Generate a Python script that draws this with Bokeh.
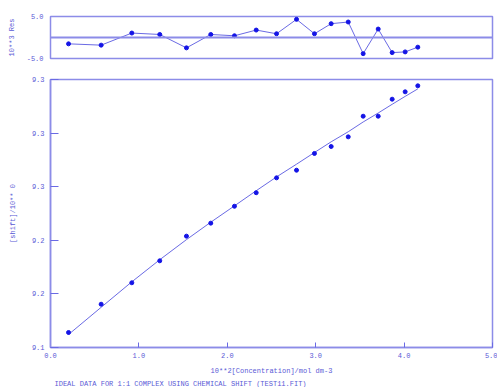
from bokeh.plotting import figure
from bokeh.layouts import column
from bokeh.models import Range1d, FixedTicker, Span, Title, NumeralTickFormatter
from bokeh.embed import file_html
from bokeh.resources import INLINE

# ---- data ----
conc = [0.204, 0.573, 0.920, 1.236, 1.538, 1.813, 2.081, 2.327, 2.557,
        2.783, 2.986, 3.175, 3.368, 3.537, 3.707, 3.865, 4.012, 4.155]
shift_obs = [9.1112, 9.1323, 9.1483, 9.1647, 9.1831, 9.1928, 9.2054, 9.2155, 9.2266,
             9.2323, 9.2448, 9.2500, 9.2572, 9.2726, 9.2726, 9.2853, 9.2908, 9.2953]
shift_fit = [9.1097, 9.1300, 9.1490, 9.1655, 9.1805, 9.1935, 9.2057, 9.2170, 9.2273,
             9.2368, 9.2455, 9.2535, 9.2610, 9.2683, 9.2750, 9.2815, 9.2874, 9.2930]
residual = [-1.51, -1.82, 1.06, 0.72, -2.47, 0.72, 0.41, 1.77, 0.89,
            4.32, 0.89, 3.29, 3.69, -3.84, 2.01, -3.60, -3.43, -2.30]

x_ticks = [0, 1, 2, 3, 4, 5]
y_ticks = [9.10, 9.14, 9.18, 9.22, 9.26, 9.30]
y_tick_labels = ["9.1", "9.2", "9.2", "9.3", "9.3", "9.3"]
res_ticks = [-5, 5]
res_tick_labels = ["-5.0", "5.0"]

FRAME = "#8c8ce8"
TEXT = "#5a5ad6"
LINE = "#6a6ae4"
PT = "#1414e6"
FONT = "Liberation Mono"
FS = "7px"

W = 497

# ---- residual panel ----
r = figure(width=W, height=66, output_backend="svg", toolbar_location=None,
           x_range=Range1d(0, 5), y_range=Range1d(-5, 5),
           min_border_left=50, min_border_right=5, min_border_top=16, min_border_bottom=8)
r.xaxis.visible = False
r.grid.visible = False
r.outline_line_color = FRAME
r.outline_line_width = 1.5
r.yaxis.ticker = FixedTicker(ticks=res_ticks)
r.yaxis.major_label_overrides = {t: l for t, l in zip(res_ticks, res_tick_labels)}
r.yaxis.axis_line_color = None
r.yaxis.major_tick_line_color = None
r.yaxis.minor_tick_line_color = None
r.yaxis.major_tick_out = 0
r.yaxis.major_label_text_font = FONT
r.yaxis.major_label_text_font_size = FS
r.yaxis.major_label_text_color = TEXT
r.yaxis.major_label_standoff = 7
r.yaxis.axis_label = "10**3 Res"
r.yaxis.axis_label_text_font = FONT
r.yaxis.axis_label_text_font_size = FS
r.yaxis.axis_label_text_font_style = "normal"
r.yaxis.axis_label_text_color = TEXT
r.yaxis.axis_label_standoff = 8
r.add_layout(Span(location=0, dimension="width", line_color=FRAME, line_width=2))
r.line(conc, residual, line_color=LINE, line_width=1)
r.scatter(conc, residual, size=4, color=PT, line_color=PT)

# ---- main panel ----
p = figure(width=W, height=321, output_backend="svg", toolbar_location=None,
           x_range=Range1d(0, 5), y_range=Range1d(9.10, 9.30),
           min_border_left=50, min_border_right=5, min_border_top=13, min_border_bottom=40)
p.grid.visible = False
p.outline_line_color = FRAME
p.outline_line_width = 1.5

p.yaxis.ticker = FixedTicker(ticks=y_ticks)
p.yaxis.major_label_overrides = {t: l for t, l in zip(y_ticks, y_tick_labels)}
p.yaxis.major_tick_in = 8
p.yaxis.major_tick_out = 0
p.yaxis.major_label_standoff = 6
p.yaxis.axis_label = "[shift]/10** 0"
p.yaxis.axis_label_standoff = 12

p.xaxis.ticker = FixedTicker(ticks=x_ticks)
p.xaxis.formatter = NumeralTickFormatter(format="0.0")
p.xaxis.major_tick_in = 5
p.xaxis.major_tick_out = 0
p.xaxis.major_label_standoff = 5
p.xaxis.axis_label = "10**2[Concentration]/mol dm-3"
p.xaxis.axis_label_standoff = 6

for ax in (p.xaxis, p.yaxis):
    ax.axis_line_color = FRAME
    ax.axis_line_width = 1.5
    ax.major_tick_line_color = LINE
    ax.minor_tick_line_color = None
    ax.major_label_text_font = FONT
    ax.major_label_text_font_size = FS
    ax.major_label_text_color = TEXT
    ax.axis_label_text_font = FONT
    ax.axis_label_text_font_size = FS
    ax.axis_label_text_font_style = "normal"
    ax.axis_label_text_color = TEXT

p.add_layout(Title(text="IDEAL DATA FOR 1:1 COMPLEX USING CHEMICAL SHIFT (TEST11.FIT)",
                   align="left", offset=4, text_font=FONT, text_font_size=FS,
                   text_font_style="normal", text_color=TEXT, standoff=0), "below")

p.line(conc, shift_fit, line_color=LINE, line_width=1)
p.scatter(conc, shift_obs, size=4, color=PT, line_color=PT)

layout = column(r, p, spacing=0)
open("out.html", "w").write(file_html(layout, INLINE))
